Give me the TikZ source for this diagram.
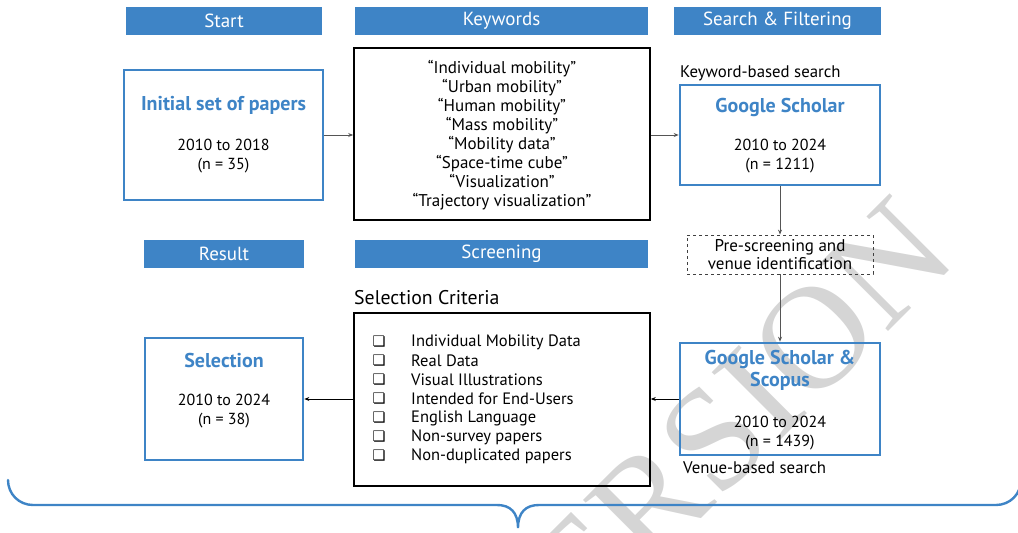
\documentclass[tikz,border=0pt]{standalone}
\usepackage{fontspec}
\setmainfont{PT Sans}
\newfontfamily\symfont{DejaVu Sans}
\newfontfamily\wmfont{Liberation Serif}
\usetikzlibrary{arrows.meta}
\definecolor{hblue}{RGB}{62,132,198}
\definecolor{wmgray}{RGB}{213,213,213}
\definecolor{arrgray}{RGB}{85,85,85}
\begin{document}
\begin{tikzpicture}[x=1pt,y=-1pt,
  hdr/.style={fill=hblue,text=white,minimum height=28pt,inner sep=0pt,font=\fontsize{19}{21}\selectfont},
  bluebox/.style={draw=hblue,line width=2.6pt,inner sep=0pt},
  blackbox/.style={draw=black,line width=1.6pt,inner sep=0pt},
  dashbox/.style={draw=black!75,dashed,line width=0.8pt,inner sep=0pt},
  ttl/.style={text=hblue,font=\bfseries\fontsize{20}{22}\selectfont,align=center,inner sep=0pt},
  num/.style={font=\fontsize{16}{19}\selectfont,align=center,inner sep=0pt},
  lbl/.style={font=\fontsize{16.8}{18}\selectfont,inner sep=0pt,anchor=west},
  chk/.style={font=\symfont\bfseries\fontsize{14.5}{19}\selectfont,inner sep=0pt},
  crit/.style={font=\fontsize{16.5}{19}\selectfont,inner sep=0pt,anchor=west},
  arr/.style={-{Stealth[length=5pt,width=4pt]},line width=0.9pt,draw=arrgray},
  brace/.style={draw=hblue,line width=2.4pt},
]
\useasboundingbox (0,0) rectangle (1018,533);
\begin{scope}
\clip (0,0) rectangle (1018,533);
% watermark
\node[text=wmgray,font=\wmfont\fontsize{147}{150}\selectfont,rotate=45,inner sep=0pt] (wm) at (702,451) {VERSION};

% headers
\node[hdr,minimum width=196pt] (hstart) at (224,21) {Start};
\node[hdr,minimum width=293pt] (hkey) at (501.5,21) {Keywords};
\node[hdr,minimum width=207pt] (hsearch) at (777.5,21) {Search \& Filtering};
\node[hdr,minimum width=160pt] (hres) at (224,254) {Result};
\node[hdr,minimum width=293pt] (hscr) at (501.5,254) {Screening};

% boxes
\node[bluebox,minimum width=199pt,minimum height=130pt] (init) at (223.5,135) {};
\node[ttl] (initt) at (223.5,105) {Initial set of papers};
\node[num] (initn) at (223.5,156.5) {2010 to 2018\\(n = 35)};

\node[blackbox,minimum width=296pt,minimum height=172pt] (kw) at (502,134) {};
\node[num,font=\fontsize{17}{19}\selectfont] (kwt) at (502,135.5) {“Individual mobility”\\“Urban mobility”\\“Human mobility”\\“Mass mobility”\\“Mobility data”\\“Space-time cube”\\“Visualization”\\“Trajectory visualization"};

\node[lbl] (kbs) at (680,73) {Keyword-based search};
\node[bluebox,minimum width=200pt,minimum height=100pt] (gs) at (780,135) {};
\node[ttl] (gst) at (780,107) {Google Scholar};
\node[num] (gsn) at (780,156.5) {2010 to 2024\\(n = 1211)};

\node[dashbox,minimum width=186pt,minimum height=39pt] (pre) at (780,254.5) {};
\node[num,font=\fontsize{17}{18}\selectfont] (pret) at (780,255) {Pre-screening and\\venue identification};

\node[bluebox,minimum width=200pt,minimum height=112pt] (gss) at (780,399) {};
\node[ttl] (gsst) at (780,370) {Google Scholar \&\\Scopus};
\node[num] (gssn) at (780,433) {2010 to 2024\\(n = 1439)};
\node[lbl] (vbs) at (683,468) {Venue-based search};

\node[font=\fontsize{19.8}{21}\selectfont,inner sep=0pt,anchor=west] (sc) at (354,298) {Selection Criteria};
\node[blackbox,minimum width=296pt,minimum height=173pt] (crit) at (502,399.5) {};
\foreach \i/\t in {0/Individual Mobility Data,1/Real Data,2/Visual Illustrations,3/Intended for End-Users,4/English Language,5/Non-survey papers,6/Non-duplicated papers}{
  \node[chk] (c\i) at (379,342+19*\i) {❏};
  \node[crit] (t\i) at (411,342+19*\i) {\t};
}

\node[bluebox,minimum width=158pt,minimum height=122pt] (sel) at (224,399) {};
\node[ttl] (selt) at (224,360) {Selection};
\node[num] (seln) at (224,411.5) {2010 to 2024\\(n = 38)};

% arrows
\draw[arr] (init.east |- 0,135) -- (kw.west |- 0,135);
\draw[arr] (kw.east |- 0,135) -- (gs.west |- 0,135);
\draw[arr] (gs.south) -- (pre.north);
\draw[arr] (pre.south) -- (gss.north);
\draw[arr,draw=black,line width=0.8pt] (gss.west |- 0,399) -- (crit.east |- 0,399);
\draw[arr,draw=black,line width=0.8pt] (crit.west |- 0,399) -- (sel.east |- 0,399);

% brace
\coordinate (bl) at (8,480);
\coordinate (br) at (1021,480);
\coordinate (btip) at (518,528);
\draw[brace,line cap=round] (bl) .. controls (8,494) and (19,505) .. (33,505)
  -- (497,505) .. controls (510,505) and (518,512) .. (btip)
  .. controls (518,512) and (526,505) .. (539,505)
  -- (996,505) .. controls (1010,505) and (1021,494) .. (br);
\end{scope}
\end{tikzpicture}
\end{document}
